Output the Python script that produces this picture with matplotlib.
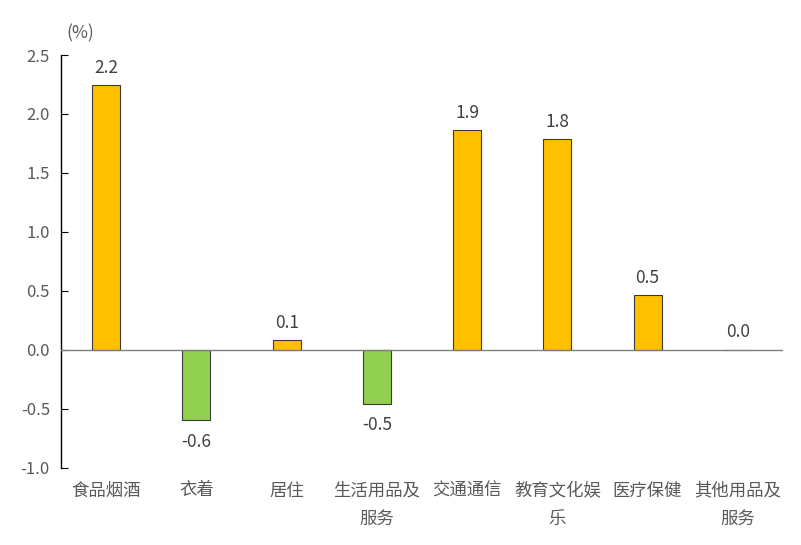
import matplotlib
matplotlib.use('Agg')
import matplotlib.pyplot as plt
import numpy as np

plt.rcParams['font.family'] = ['Noto Sans CJK SC', 'DejaVu Sans']

# 各类商品价格涨跌幅
categories = ['食品烟酒', '衣着', '居住', '生活用品及\n服务', '交通通信', '教育文化娱\n乐', '医疗保健', '其他用品及\n服务']
values = [2.245, -0.60, 0.08, -0.46, 1.865, 1.785, 0.465, 0.0]
labels = ['2.2', '-0.6', '0.1', '-0.5', '1.9', '1.8', '0.5', '0.0']

gray = '#595959'
colors = ['#FFC000' if v >= 0 else '#92D050' for v in values]

fig = plt.figure(figsize=(8.01, 5.45), dpi=100)
ax = fig.add_axes([0.0762, 0.142, 0.9013, 0.757])

x = np.arange(len(categories))
ax.bar(x, values, width=0.31, color=colors, edgecolor='#3a3a3a', linewidth=0.8, zorder=3)

for xi, v, t in zip(x, values, labels):
    if v >= 0:
        ax.annotate(t, (xi, v), xytext=(0, 6), textcoords='offset points',
                    ha='center', va='bottom', fontsize=12.5, color='#404040')
    else:
        ax.annotate(t, (xi, v), xytext=(0, -9), textcoords='offset points',
                    ha='center', va='top', fontsize=12.5, color='#404040')

ax.set_xlim(-0.5, len(categories) - 0.5)
ax.set_ylim(-1.0, 2.5)
ax.set_yticks(np.arange(-1.0, 2.51, 0.5))
ax.set_yticklabels(['%.1f' % t for t in np.arange(-1.0, 2.51, 0.5)], fontsize=12, color=gray)
ax.axhline(0, color='#7f7f7f', linewidth=1.0, zorder=4)

ax.set_xticks(x)
ax.set_xticklabels(categories, fontsize=12.5, color=gray, linespacing=1.75)
ax.tick_params(axis='x', length=0, pad=10)
ax.tick_params(axis='y', direction='in', length=5, color='black', pad=8)

for s in ['top', 'right', 'bottom']:
    ax.spines[s].set_visible(False)
ax.spines['left'].set_color('black')
ax.spines['left'].set_linewidth(1.0)

fig.text(80 / 801, 1 - 33 / 545, '(%)', fontsize=12.5, color=gray, ha='center', va='center')

fig.savefig('out.png', dpi=100)
